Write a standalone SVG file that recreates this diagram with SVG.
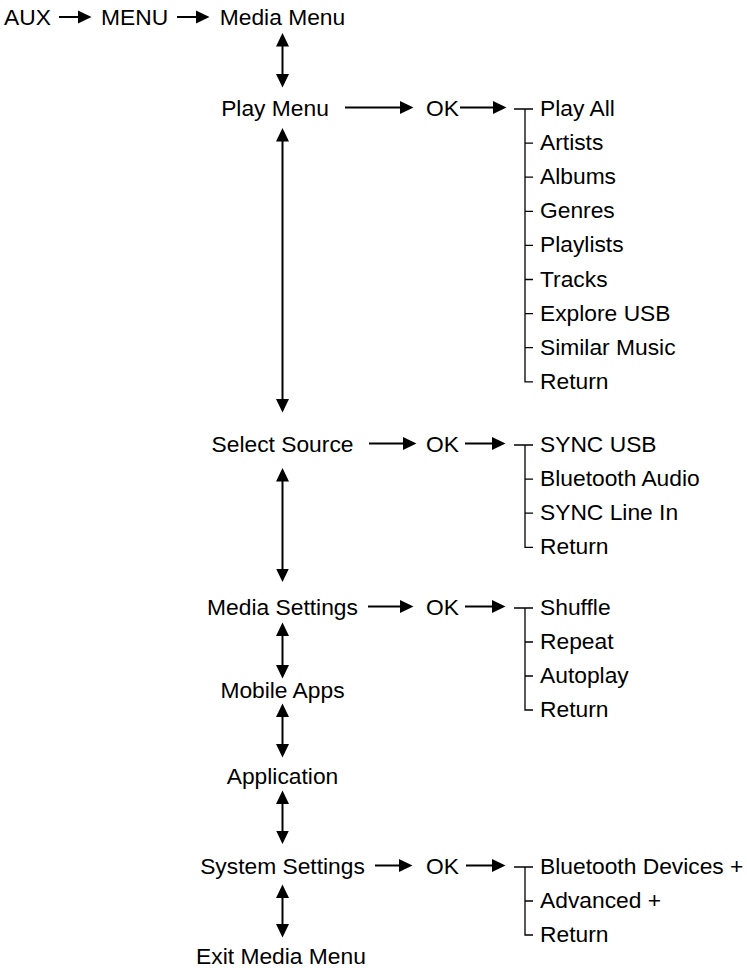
<svg xmlns="http://www.w3.org/2000/svg" width="747" height="968" viewBox="0 0 747 968">
<style>
text{font-family:"Liberation Sans",Arial,Helvetica,sans-serif;font-size:22.8px;fill:#000}
.c{text-anchor:middle}
.ab{stroke:#000;stroke-width:2;fill:none;marker-start:url(#ah);marker-end:url(#ah)}
.ae{stroke:#000;stroke-width:2;fill:none;marker-end:url(#ah)}
.t{stroke:#000;stroke-width:1.3;fill:none}
</style>
<defs>
<marker id="ah" markerUnits="userSpaceOnUse" markerWidth="14" markerHeight="14" refX="7" refY="7" orient="auto-start-reverse" viewBox="0 0 14 14">
<path d="M0,0.5 L13.5,7 L0,13.5 z" fill="#000"/>
</marker>
</defs>
<rect width="747" height="968" fill="#fff"/>
<g id="connectors">
<line class="ae" x1="59" y1="17" x2="85" y2="17"/>
<line class="ae" x1="177" y1="17" x2="203" y2="17"/>
<line class="ab" x1="282.5" y1="39.5" x2="282.5" y2="81"/>
<line class="ae" x1="345" y1="107.5" x2="407" y2="107.5"/>
<line class="ae" x1="460" y1="107.5" x2="500" y2="107.5"/>
<path class="t" d="M514,109 H533 M525,109 V381.8 H533 M525,143.1 H533 M525,177.2 H533 M525,211.3 H533 M525,245.4 H533 M525,279.5 H533 M525,313.6 H533 M525,347.7 H533"/>
<line class="ab" x1="282.5" y1="134.5" x2="282.5" y2="406"/>
<line class="ae" x1="369" y1="443.5" x2="410" y2="443.5"/>
<line class="ae" x1="465" y1="443.5" x2="499" y2="443.5"/>
<path class="t" d="M514,445 H533 M525,445 V547.3 H533 M525,479.1 H533 M525,513.2 H533"/>
<line class="ab" x1="282.5" y1="474.5" x2="282.5" y2="575.5"/>
<line class="ae" x1="368" y1="606.5" x2="407" y2="606.5"/>
<line class="ae" x1="465" y1="606.5" x2="499" y2="606.5"/>
<path class="t" d="M514,608 H533 M525,608 V710 H533 M525,642 H533 M525,676 H533"/>
<line class="ab" x1="282.5" y1="629" x2="282.5" y2="672"/>
<line class="ab" x1="282.5" y1="710" x2="282.5" y2="751"/>
<line class="ab" x1="282.5" y1="797" x2="282.5" y2="837.5"/>
<line class="ae" x1="375" y1="865.5" x2="406" y2="865.5"/>
<line class="ae" x1="466" y1="865.5" x2="499" y2="865.5"/>
<path class="t" d="M514,867 H533 M525,867 V935 H533 M525,901 H533"/>
<line class="ab" x1="282.5" y1="891" x2="282.5" y2="931"/>
</g>
<g id="aux"><text x="4" y="25">AUX</text></g>
<g id="menu"><text x="101" y="25">MENU</text></g>
<g id="media-menu"><text class="c" x="282.5" y="25">Media Menu</text></g>
<g id="play-menu"><text class="c" x="275" y="116">Play Menu</text></g>
<g id="ok-play"><text x="426" y="116">OK</text></g>
<g id="play-submenu">
<text x="540" y="116">Play All</text>
<text x="540" y="150.1">Artists</text>
<text x="540" y="184.2">Albums</text>
<text x="540" y="218.3">Genres</text>
<text x="540" y="252.4">Playlists</text>
<text x="540" y="286.5">Tracks</text>
<text x="540" y="320.6">Explore USB</text>
<text x="540" y="354.7">Similar Music</text>
<text x="540" y="388.8">Return</text>
</g>
<g id="select-source"><text class="c" x="282.5" y="452">Select Source</text></g>
<g id="ok-source"><text x="426" y="452">OK</text></g>
<g id="source-submenu">
<text x="540" y="452">SYNC USB</text>
<text x="540" y="486.1">Bluetooth Audio</text>
<text x="540" y="520.2">SYNC Line In</text>
<text x="540" y="554.3">Return</text>
</g>
<g id="media-settings"><text class="c" x="282.5" y="615">Media Settings</text></g>
<g id="ok-media"><text x="426" y="615">OK</text></g>
<g id="media-submenu">
<text x="540" y="615">Shuffle</text>
<text x="540" y="649">Repeat</text>
<text x="540" y="683">Autoplay</text>
<text x="540" y="717">Return</text>
</g>
<g id="mobile-apps"><text class="c" x="282.5" y="698">Mobile Apps</text></g>
<g id="application"><text class="c" x="282.5" y="784">Application</text></g>
<g id="system-settings"><text class="c" x="282.5" y="874">System Settings</text></g>
<g id="ok-system"><text x="426" y="874">OK</text></g>
<g id="system-submenu">
<text x="540" y="874">Bluetooth Devices +</text>
<text x="540" y="908">Advanced +</text>
<text x="540" y="942">Return</text>
</g>
<g id="exit-media-menu"><text class="c" x="281" y="964">Exit Media Menu</text></g>
</svg>
